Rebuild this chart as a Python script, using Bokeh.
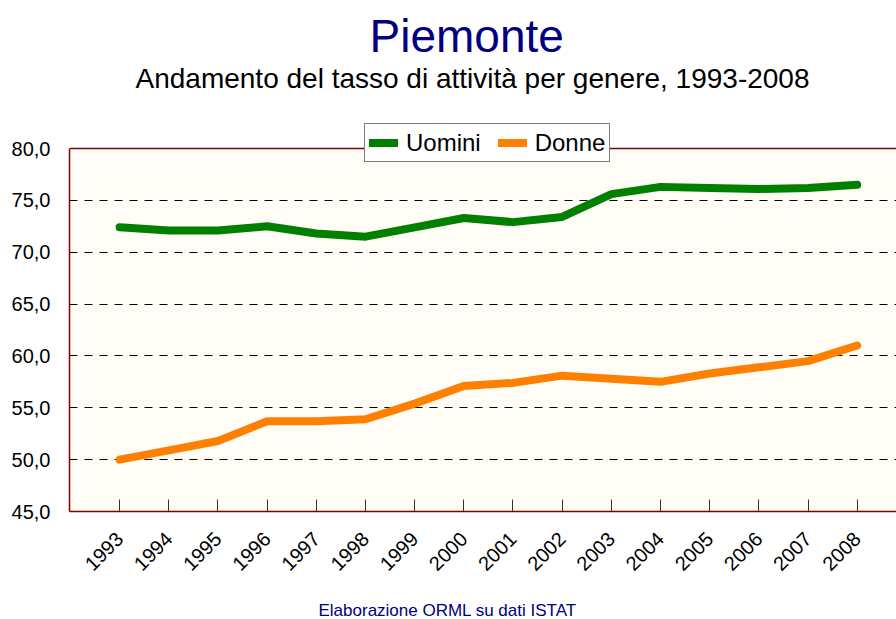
from math import pi
from bokeh.plotting import figure
from bokeh.models import (Range1d, FixedTicker, Legend, LegendItem, Title, Span,
                          BoxAnnotation, Label)
from bokeh.embed import file_html
from bokeh.resources import INLINE

# ---- data ----
years = [1993, 1994, 1995, 1996, 1997, 1998, 1999, 2000,
         2001, 2002, 2003, 2004, 2005, 2006, 2007, 2008]
uomini = [72.4, 72.1, 72.1, 72.5, 71.8, 71.5, 72.4, 73.3,
          72.9, 73.4, 75.6, 76.3, 76.2, 76.1, 76.2, 76.5]
donne = [50.0, 50.9, 51.8, 53.7, 53.7, 53.9, 55.4, 57.1,
         57.4, 58.1, 57.8, 57.5, 58.3, 58.9, 59.5, 61.0]
y_ticks = [45, 50, 55, 60, 65, 70, 75, 80]
y_tick_labels = ["45,0", "50,0", "55,0", "60,0", "65,0", "70,0", "75,0", "80,0"]
grid_ticks = [50, 55, 60, 65, 70, 75]
series_names = ["Uomini", "Donne"]
title_text = "Piemonte"
subtitle_text = "Andamento del tasso di attività per genere, 1993-2008"
footer_text = "Elaborazione ORML su dati ISTAT"

FONT = "Liberation Sans"
GREEN = "#008000"
ORANGE = "#FF8000"
NAVY = "#000080"
DARKRED = "#800000"

# ---- layout geometry (pixels) ----
W, H = 896, 619
FRAME_LEFT = 69          # left edge of plot area
FRAME_BOTTOM = 511       # y of value 45
Y_LO, Y_HI = 45, 80
PX_PER_Y = (511 - 148) / (Y_HI - Y_LO)
X_LO = 1991.98
PX_PER_X = 49.168
x_hi = X_LO + (W - FRAME_LEFT) / PX_PER_X
y_top = Y_LO + FRAME_BOTTOM / PX_PER_Y   # frame extends to the top of the canvas


def px_x(px):
    return X_LO + (px - FRAME_LEFT) / PX_PER_X


def px_y(py):
    return Y_LO + (FRAME_BOTTOM - py) / PX_PER_Y


p = figure(width=W, height=H,
           x_range=Range1d(X_LO, x_hi), y_range=Range1d(Y_LO, y_top),
           output_backend="svg", toolbar_location=None,
           min_border_left=FRAME_LEFT, min_border_right=0,
           min_border_top=0, min_border_bottom=H - FRAME_BOTTOM)

p.background_fill_color = "#FFFDF5"
p.border_fill_color = "white"
p.outline_line_color = None

r1 = p.line(years, uomini, line_width=8, line_color=GREEN,
            line_cap="round", line_join="round")
r2 = p.line(years, donne, line_width=8, line_color=ORANGE,
            line_cap="round", line_join="round")

# white area above the plot box (titles live there)
p.add_layout(BoxAnnotation(bottom=Y_HI, fill_color="white", fill_alpha=1.0,
                           line_color=None))
p.add_layout(Span(location=Y_HI, dimension="width", line_color=DARKRED,
                  line_width=1.5))

# axes
p.xaxis.ticker = FixedTicker(ticks=years)
p.xaxis.major_label_orientation = pi / 4
p.xaxis.major_tick_in = 12
p.xaxis.major_tick_out = 0
p.xaxis.major_tick_line_color = "#333333"
p.xaxis.minor_tick_line_color = None
p.xaxis.axis_line_color = DARKRED
p.xaxis.axis_line_width = 1.5
p.xaxis.major_label_text_font = FONT
p.xaxis.major_label_text_font_size = "20px"
p.xaxis.major_label_text_color = "black"
p.xaxis.major_label_standoff = 24

p.yaxis.ticker = FixedTicker(ticks=y_ticks)
p.yaxis.bounds = (Y_LO, Y_HI)
p.yaxis.major_label_overrides = {t: l for t, l in zip(y_ticks, y_tick_labels)}
p.yaxis.major_tick_in = 0
p.yaxis.major_tick_out = 0
p.yaxis.minor_tick_line_color = None
p.yaxis.axis_line_color = DARKRED
p.yaxis.axis_line_width = 1.5
p.yaxis.major_label_text_font = FONT
p.yaxis.major_label_text_font_size = "20px"
p.yaxis.major_label_text_color = "black"
p.yaxis.major_label_standoff = 19

p.xgrid.visible = False
p.ygrid.ticker = FixedTicker(ticks=grid_ticks)
p.ygrid.grid_line_color = "black"
p.ygrid.grid_line_dash = "8 7"
p.ygrid.grid_line_width = 1

legend = Legend(items=[LegendItem(label=series_names[0], renderers=[r1]),
                       LegendItem(label=series_names[1], renderers=[r2])],
                orientation="horizontal", location=(295, 349), margin=0,
                padding=4, spacing=17, label_standoff=8,
                glyph_width=29, glyph_height=29,
                label_text_font=FONT, label_text_font_size="24px",
                label_text_color="black",
                border_line_color="black", border_line_width=1,
                background_fill_color="white", background_fill_alpha=1.0)
p.add_layout(legend)

# titles (alphabetic baseline, corrected for the svg text offset)
p.add_layout(Label(x=px_x(369), y=px_y(35), text=title_text,
                   text_font=FONT, text_font_size="46px", text_color=NAVY,
                   text_align="left", text_baseline="alphabetic"))
p.add_layout(Label(x=px_x(135), y=px_y(78), text=subtitle_text,
                   text_font=FONT, text_font_size="28px", text_color="black",
                   text_align="left", text_baseline="alphabetic"))

# footer below the axis
spacer = Title(text=" ", text_font_size="10px", standoff=6)
foot = Title(text=footer_text, text_font=FONT, text_font_size="17px",
             text_font_style="normal", text_color=NAVY, align="left",
             offset=249, standoff=0)
p.add_layout(spacer, "below")
p.add_layout(foot, "below")

open("out.html", "w").write(file_html(p, INLINE))
